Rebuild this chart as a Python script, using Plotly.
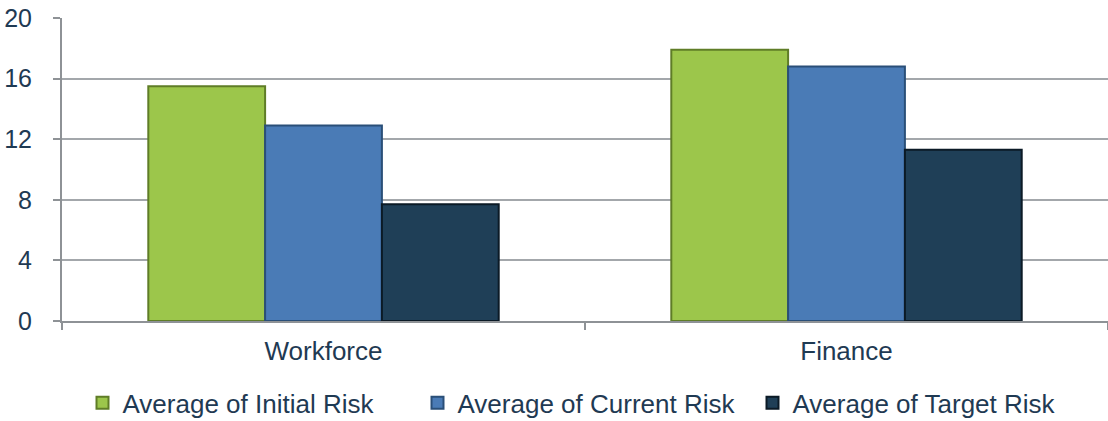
import plotly.graph_objects as go

categories = ["Workforce", "Finance"]
series_names = ["Average of Initial Risk", "Average of Current Risk", "Average of Target Risk"]
initial_risk = [15.5, 17.9]
current_risk = [12.9, 16.8]
target_risk = [7.7, 11.3]
y_ticks = [0, 4, 8, 12, 16, 20]

colors = ["#9CC64B", "#4A7BB6", "#1F3F57"]
edge_colors = ["#5F7D27", "#2A4F78", "#0B1A26"]

fig = go.Figure()
for name, vals, c, e in zip(series_names, [initial_risk, current_risk, target_risk], colors, edge_colors):
    fig.add_trace(go.Bar(
        x=categories, y=vals, name=name,
        marker=dict(color=c, line=dict(color=e, width=2)),
    ))

text_color = "#1F3A53"
fig.update_layout(
    width=1108, height=421,
    margin=dict(l=62, r=0, t=18, b=100, autoexpand=False),
    paper_bgcolor="white", plot_bgcolor="white",
    barmode="group", bargap=0.33, bargroupgap=0,
    font=dict(family="Liberation Sans, Arial, sans-serif", size=25, color=text_color),
    showlegend=True,
    legend=dict(orientation="h", x=0.5, xanchor="center", y=-0.27, yanchor="middle",
                font=dict(size=26, color=text_color), itemwidth=30, tracegroupgap=0,
                entrywidth=290),
    xaxis=dict(type="category", showline=True, linecolor="#8E9296", linewidth=2,
               ticks="outside", tickson="boundaries", ticklen=7, tickcolor="#8E9296", tickwidth=1.5,
               showgrid=False, ticklabelstandoff=6,
               tickfont=dict(size=26, color=text_color)),
    yaxis=dict(range=[0, 20], tickvals=y_ticks, showline=True, linecolor="#8E9296", linewidth=2,
               ticks="outside", ticklen=7, tickcolor="#8E9296", tickwidth=1.5,
               showgrid=True, gridcolor="#A3A7AB", gridwidth=2, zeroline=False,
               ticklabelstandoff=16,
               tickfont=dict(size=25, color=text_color)),
)

fig.write_html("out.html")
